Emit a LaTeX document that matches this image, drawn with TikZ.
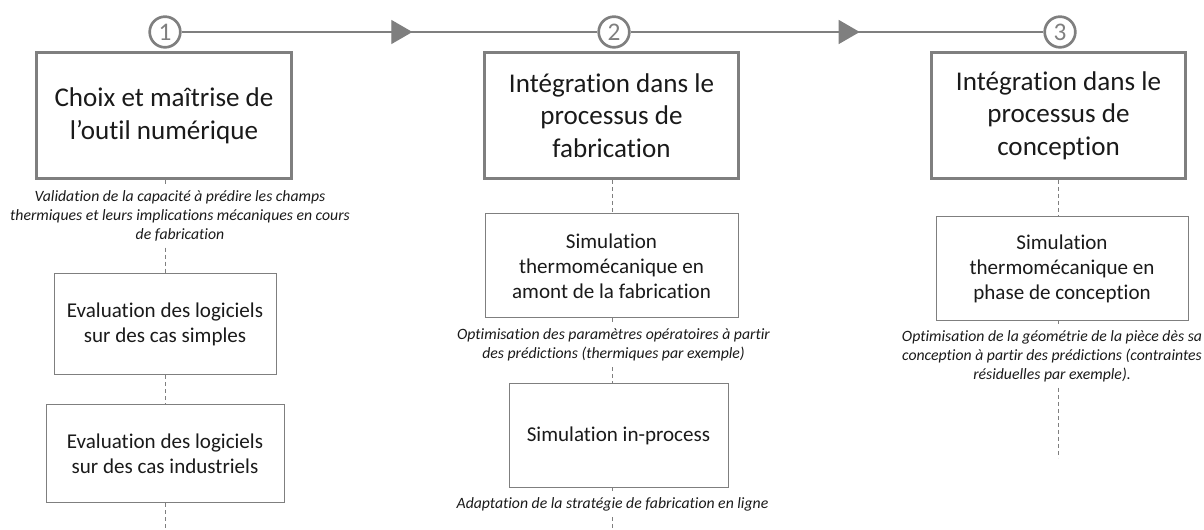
\documentclass[tikz,border=0pt]{standalone}
\usepackage{fontspec}
\setmainfont{Carlito}[Ligatures=NoCommon]
\usetikzlibrary{arrows.meta,decorations.markings}
\definecolor{framegray}{HTML}{7F7F7F}
\definecolor{inkgray}{HTML}{1A1A1A}

\begin{document}
\begin{tikzpicture}[x=0.75pt,y=-0.75pt,
  stepnum/.style={circle,draw=framegray,line width=2pt,minimum size=23pt,inner sep=0pt,text=framegray,font=\fontsize{19}{19}\selectfont},
  phase/.style={draw=framegray,line width=2.25pt,minimum width=191pt,minimum height=94.5pt,align=center,text=inkgray,font=\fontsize{20.3}{24.5}\selectfont},
  task/.style={draw=framegray,line width=0.75pt,align=center,text=inkgray,font=\fontsize{15.8}{18.75}\selectfont},
  note/.style={align=center,inner sep=4.5pt,text=inkgray,font=\fontsize{11.8}{14.25}\selectfont\itshape},
  link/.style={draw=framegray,line width=0.75pt,dash pattern=on 3pt off 2.25pt},
  flow/.style={color=framegray,line width=0.9pt,postaction={decorate},decoration={markings,mark=at position 0.555 with {\arrow{Triangle[length=15.75pt,width=18pt]}}}}]
\useasboundingbox (0,0) rectangle (1204,530);
\node[stepnum] (c1) at (165,32) {1};
\node[stepnum] (c2) at (614,32) {2};
\node[stepnum] (c3) at (1060,32) {3};
\draw[flow] (c1) -- (c2);
\draw[flow] (c2) -- (c3);
\node[phase] (h1) at (164,115.5) {Choix et maîtrise de\\l’outil numérique};
\node[phase] (h2) at (611.5,115.5) {Intégration dans le\\processus de\\fabrication};
\node[phase] (h3) at (1058.5,115.5) {Intégration dans le\\processus de\\conception};
\node[note] (n1) at (180,216) {Validation de la capacité à prédire les champs\\thermiques et leurs implications mécaniques en cours\\de fabrication};
\node[task,minimum width=166.5pt,minimum height=75.75pt] (e1) at (165,324.5) {Evaluation des logiciels\\sur des cas simples};
\node[task,minimum width=178.5pt,minimum height=73.5pt] (e2) at (165,454) {Evaluation des logiciels\\sur des cas industriels};
\coordinate (end1) at (165,530);
\draw[link] (h1.south -| e1) -- (e1 |- n1.north);
\draw[link] (n1.south -| e1) -- (e1);
\draw[link] (e1) -- (e2);
\draw[link] (e2) -- (end1);
\node[task,minimum width=189.75pt,minimum height=78pt] (s1) at (611.5,266) {Simulation\\thermomécanique en\\amont de la fabrication};
\node[note] (n2) at (613.5,345) {Optimisation des paramètres opératoires à partir\\des prédictions (thermiques par exemple)};
\node[task,minimum width=164.25pt,minimum height=78pt] (s2) at (618.5,436) {Simulation in-process};
\node[note] (n3) at (612.5,504) {Adaptation de la stratégie de fabrication en ligne};
\coordinate (end2) at (612.5,530);
\draw[link] (h2.south -| end2) -- (end2 |- s1.north);
\draw[link] (s1.south -| end2) -- (end2 |- n2.north);
\draw[link] (n2.south -| end2) -- (end2 |- s2.north);
\draw[link] (s2.south -| end2) -- (n3);
\draw[link] (n3) -- (end2);
\node[task,minimum width=189pt,minimum height=78pt] (p1) at (1062,269) {Simulation\\thermomécanique en\\phase de conception};
\node[note] (n4) at (1052,356) {Optimisation de la géométrie de la pièce dès sa\\conception à partir des prédictions (contraintes\\résiduelles par exemple).};
\coordinate (end3) at (1058,458);
\draw[link] (h3.south -| end3) -- (end3 |- p1.north);
\draw[link] (p1.south -| end3) -- (end3 |- n4.north);
\draw[link] (n4.south -| end3) -- (end3);
\end{tikzpicture}
\end{document}
